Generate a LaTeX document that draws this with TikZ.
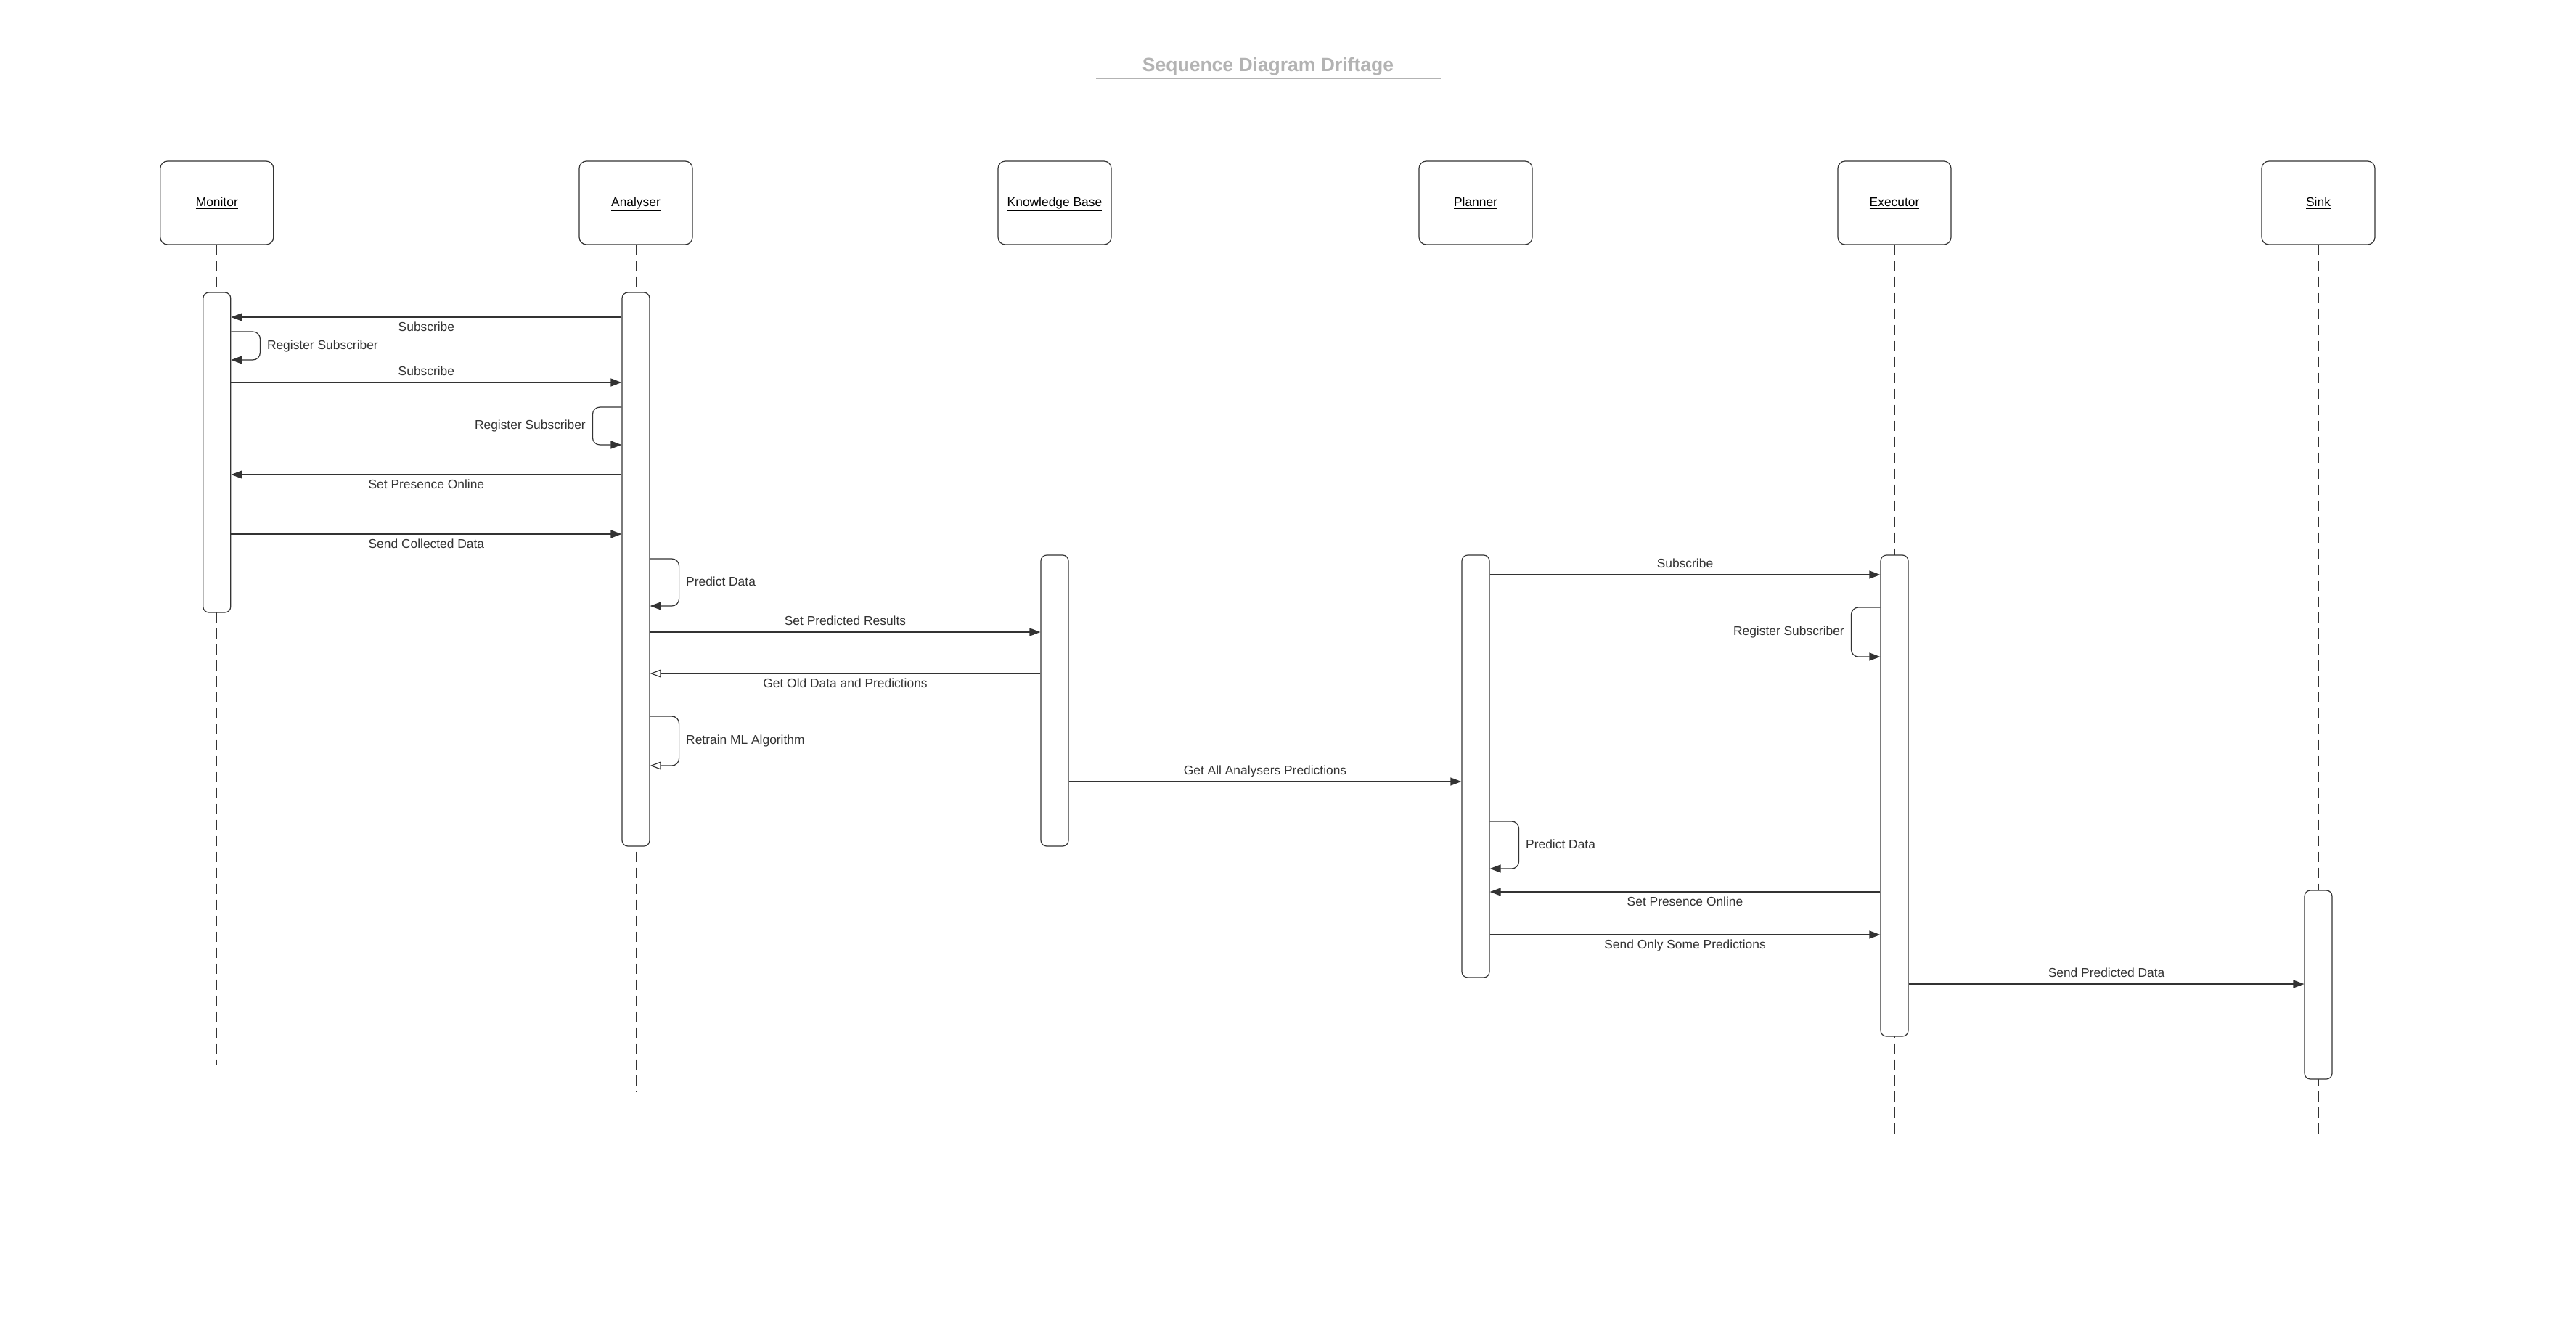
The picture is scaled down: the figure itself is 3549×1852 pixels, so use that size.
\documentclass[tikz,border=0pt]{standalone}
\usepackage{fontspec}
\setmainfont{Liberation Sans}
\usetikzlibrary{arrows.meta}
\definecolor{ln}{HTML}{333333}
\definecolor{ttl}{HTML}{B3B3B3}
\newcommand{\lblfont}{\fontsize{8.7pt}{10pt}\selectfont}
\newcommand{\ttlfont}{\fontsize{13.25pt}{15pt}\selectfont\bfseries}
\tikzset{
  actor/.style={draw=ln, line width=0.6pt, rounded corners=5pt, minimum width=78pt, minimum height=57.5pt, fill=white, font=\lblfont, text=black, inner sep=0pt, text height=6.5pt, text depth=1.8pt},
  bar/.style={draw=ln, line width=0.6pt, rounded corners=4pt, fill=white, minimum width=19pt, inner sep=0pt},
  life/.style={draw=ln, line width=0.5pt, dash pattern=on 7pt off 4pt},
  msg/.style={draw=ln, line width=0.6pt, -{Triangle[length=7.5pt,width=5.5pt]}},
  ret/.style={draw=ln, line width=0.6pt, -{Triangle[open,length=7.5pt,width=5.5pt]}},
  selfloop/.style={rounded corners=5pt},
  lab/.style={font=\lblfont, text=ln, inner sep=0pt, text height=6.5pt, text depth=1.8pt},
  labB/.style={lab, midway, anchor=north, yshift=-3pt},
  labA/.style={lab, midway, anchor=base, yshift=5pt},
  labR/.style={lab, pos=0.25, anchor=west, xshift=4.5pt},
  labL/.style={lab, pos=0.25, anchor=east, xshift=-4.5pt}
}
\begin{document}
\begin{tikzpicture}[x=0.5pt,y=-0.5pt]
\useasboundingbox (0,0) rectangle (3549,1852);
\fill[white] (0,0) rectangle (3549,1852);

% title
\node[font=\ttlfont, text=ttl, anchor=base, inner sep=0pt] (title) at (1747,98) {Sequence Diagram Driftage};
\coordinate (tl) at (1510,108);
\coordinate (tr) at (1985,108);
\draw[ttl, line width=1.1pt] (tl) -- (tr);

% actors
\node[actor] (mon) at (298.8,279.5) {\underline{Monitor}};
\node[actor] (ana) at (876,279.5) {\underline{Analyser}};
\node[actor] (kb)  at (1453,279.5) {\underline{Knowledge Base}};
\node[actor] (pla) at (2033,279.5) {\underline{Planner}};
\node[actor] (exe) at (2610,279.5) {\underline{Executor}};
\node[actor] (snk) at (3194,279.5) {\underline{Sink}};

% lifeline ends
\coordinate (monE) at (298.8,1467);
\coordinate (anaE) at (876,1505);
\coordinate (kbE)  at (1453,1528);
\coordinate (plaE) at (2033,1548);
\coordinate (exeE) at (2610,1566);
\coordinate (snkE) at (3194,1566);
\draw[life] (mon) -- (monE);
\draw[life] (ana) -- (anaE);
\draw[life] (kb)  -- (kbE);
\draw[life] (pla) -- (plaE);
\draw[life] (exe) -- (exeE);
\draw[life] (snk) -- (snkE);

% activation bars
\node[bar, minimum height=220.5pt] (monB) at (298.8,623.5) {};
\node[bar, minimum height=381.5pt] (anaB) at (876,784.5) {};
\node[bar, minimum height=200.5pt] (kbB)  at (1453,965.5) {};
\node[bar, minimum height=291pt]   (plaB) at (2033,1056) {};
\node[bar, minimum height=331.5pt] (exeB) at (2610,1096.5) {};
\node[bar, minimum height=130pt]   (snkB) at (3194,1357) {};

% message levels
\coordinate (y1) at (0,437);
\coordinate (s1a) at (0,457);  \coordinate (s1b) at (0,496);
\coordinate (y3) at (0,527);
\coordinate (s2a) at (0,561);  \coordinate (s2b) at (0,613);
\coordinate (y5) at (0,654);
\coordinate (y6) at (0,736);
\coordinate (s3a) at (0,770);  \coordinate (s3b) at (0,835);
\coordinate (y8) at (0,871);
\coordinate (y9) at (0,928);
\coordinate (s4a) at (0,987);  \coordinate (s4b) at (0,1055);
\coordinate (y11) at (0,1077);
\coordinate (y12) at (0,792);
\coordinate (s5a) at (0,837);  \coordinate (s5b) at (0,905);
\coordinate (s6a) at (0,1132); \coordinate (s6b) at (0,1197);
\coordinate (y15) at (0,1229);
\coordinate (y16) at (0,1288);
\coordinate (y17) at (0,1356);

% messages
\draw[msg] (anaB.west |- y1) -- node[labB] (l1) {Subscribe} (monB.east |- y1);
\draw[msg, selfloop] (monB.east |- s1a) -- ++(40,0) |- node[labR] (l2) {Register Subscriber} (monB.east |- s1b);
\draw[msg] (monB.east |- y3) -- node[labA] (l3) {Subscribe} (anaB.west |- y3);
\draw[msg, selfloop] (anaB.west |- s2a) -- ++(-40,0) |- node[labL] (l4) {Register Subscriber} (anaB.west |- s2b);
\draw[msg] (anaB.west |- y5) -- node[labB] (l5) {Set Presence Online} (monB.east |- y5);
\draw[msg] (monB.east |- y6) -- node[labB] (l6) {Send Collected Data} (anaB.west |- y6);
\draw[msg, selfloop] (anaB.east |- s3a) -- ++(40,0) |- node[labR] (l7) {Predict Data} (anaB.east |- s3b);
\draw[msg] (anaB.east |- y8) -- node[labA] (l8) {Set Predicted Results} (kbB.west |- y8);
\draw[ret] (kbB.west |- y9) -- node[labB] (l9) {Get Old Data and Predictions} (anaB.east |- y9);
\draw[ret, selfloop] (anaB.east |- s4a) -- ++(40,0) |- node[labR] (l10) {Retrain ML Algorithm} (anaB.east |- s4b);
\draw[msg] (kbB.east |- y11) -- node[labA] (l11) {Get All Analysers Predictions} (plaB.west |- y11);
\draw[msg] (plaB.east |- y12) -- node[labA] (l12) {Subscribe} (exeB.west |- y12);
\draw[msg, selfloop] (exeB.west |- s5a) -- ++(-40,0) |- node[labL] (l13) {Register Subscriber} (exeB.west |- s5b);
\draw[msg, selfloop] (plaB.east |- s6a) -- ++(40,0) |- node[labR] (l14) {Predict Data} (plaB.east |- s6b);
\draw[msg] (exeB.west |- y15) -- node[labB] (l15) {Set Presence Online} (plaB.east |- y15);
\draw[msg] (plaB.east |- y16) -- node[labB] (l16) {Send Only Some Predictions} (exeB.west |- y16);
\draw[msg] (exeB.east |- y17) -- node[labA] (l17) {Send Predicted Data} (snkB.west |- y17);
\end{tikzpicture}
\end{document}
